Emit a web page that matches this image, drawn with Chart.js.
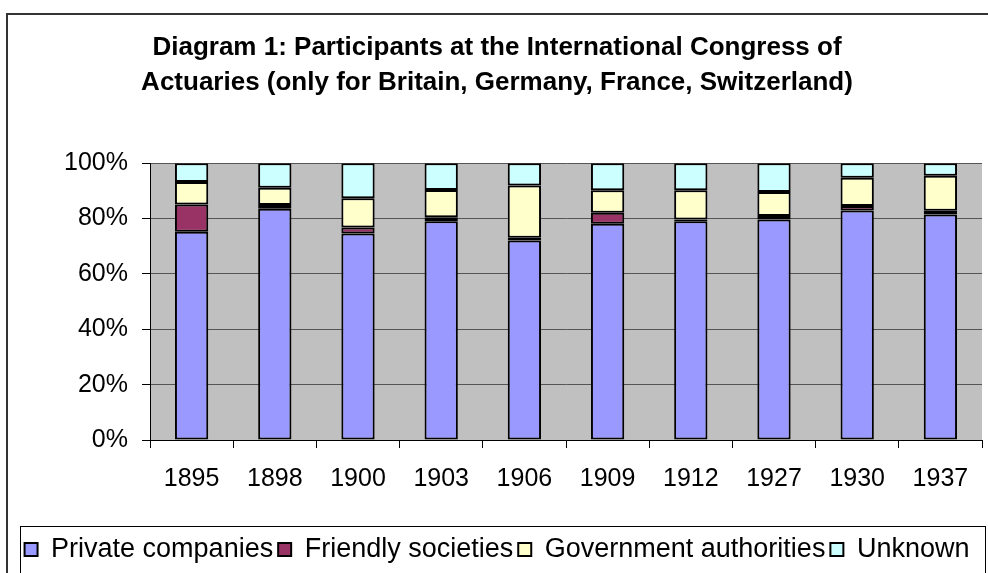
<!DOCTYPE html>
<html>
<head>
<meta charset="utf-8">
<script src="https://cdn.jsdelivr.net/npm/chart.js@4.4.1/dist/chart.umd.min.js"></script>
<style>
  html, body { margin: 0; padding: 0; background: #fff; }
  #wrap { position: relative; width: 988px; height: 573px; overflow: hidden; }
  #frame { position: absolute; left: 6px; top: 13px; width: 990px; height: 600px;
           border-top: 2px solid #333; border-left: 2px solid #333; }
  #legendBox { position: absolute; left: 20px; top: 526px; width: 964px; height: 60px;
               border: 1px solid #000; }
  canvas { position: absolute; left: 0; top: 0; }
</style>
</head>
<body>
<div id="wrap">
  <div id="frame"></div>
  <div id="legendBox"></div>
  <canvas id="chart" width="988" height="573"></canvas>
</div>
<script>
var years = ['1895','1898','1900','1903','1906','1909','1912','1927','1930','1937'];
var seriesNames = ['Private companies','Friendly societies','Government authorities','Unknown'];
var privateCompanies = [75.2, 83.5, 74.6, 79.0, 72.1, 78.1, 79.0, 79.7, 82.9, 81.5];
var friendlySocieties = [9.9, 1.4, 2.2, 1.5, 1.0, 4.0, 0.7, 1.2, 1.6, 1.3];
var governmentAuthorities = [8.1, 6.2, 10.5, 9.8, 18.8, 8.1, 10.5, 8.7, 10.2, 12.7];
var unknown = [6.8, 8.9, 12.7, 9.7, 8.1, 9.8, 9.8, 10.4, 5.3, 4.5];
var colors = ['#9999FF','#993366','#FFFFCC','#CCFFFF'];

var plotBg = {
  id: 'plotBg',
  beforeDraw: function(chart){
    var a = chart.chartArea, c = chart.ctx;
    c.save();
    c.fillStyle = '#C0C0C0';
    c.fillRect(a.left, a.top, a.right - a.left, a.bottom - a.top);
    c.restore();
  }
};

function ds(i, data){
  return {
    label: seriesNames[i],
    data: data,
    backgroundColor: colors[i],
    borderColor: '#000',
    borderWidth: 2,
    borderSkipped: false,
    barPercentage: 0.4,
    categoryPercentage: 1
  };
}

var chart = new Chart(document.getElementById('chart'), {
  type: 'bar',
  data: {
    labels: years,
    datasets: [ds(0, privateCompanies), ds(1, friendlySocieties), ds(2, governmentAuthorities), ds(3, unknown)]
  },
  plugins: [plotBg],
  options: {
    responsive: false,
    animation: false,
    layout: { padding: { left: 12, right: 6, top: 14, bottom: 0 } },
    plugins: {
      title: {
        display: true,
        text: ['Diagram 1: Participants at the International Congress of',
               'Actuaries (only for Britain, Germany, France, Switzerland)'],
        color: '#000',
        font: { family: 'Liberation Sans, Arial', size: 26, weight: 'bold', lineHeight: 1.35 },
        padding: { top: 16, bottom: 63 }
      },
      legend: {
        position: 'bottom',
        labels: {
          color: '#000',
          font: { family: 'Liberation Sans, Arial', size: 27 },
          boxWidth: 13,
          boxHeight: 13,
          padding: 5
        }
      },
      tooltip: { enabled: false }
    },
    scales: {
      x: {
        stacked: true,
        offset: true,
        afterFit: function(s){ s.height += 21; },
        grid: { offset: true, drawOnChartArea: false, drawTicks: true, tickLength: 8, color: '#000' },
        border: { display: true, color: '#000', width: 1 },
        ticks: { color: '#000', padding: 16, font: { family: 'Liberation Sans, Arial', size: 25 }, maxRotation: 0 }
      },
      y: {
        stacked: true,
        min: 0,
        max: 100,
        afterFit: function(s){ s.width = 138; },
        grid: { color: '#555', tickColor: '#000', tickLength: 8 },
        border: { display: true, color: '#000', width: 1 },
        ticks: {
          stepSize: 20,
          padding: 14,
          color: '#000',
          font: { family: 'Liberation Sans, Arial', size: 25 },
          callback: function(v){ return v + '%'; }
        }
      }
    }
  }
});
</script>
</body>
</html>
